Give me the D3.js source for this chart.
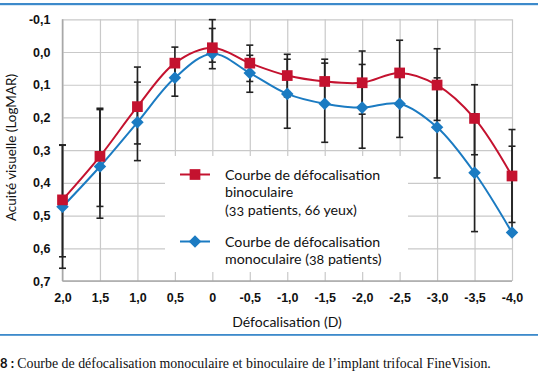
<!DOCTYPE html>
<html>
<head>
<meta charset="utf-8">
<script src="https://cdn.jsdelivr.net/npm/d3@7/dist/d3.min.js"></script>
<style>
  body { margin: 0; background: #fff; }
  svg { display: block; font-family: Lato, "Open Sans", sans-serif; }
  .num { font-variant-numeric: oldstyle-nums; }
</style>
</head>
<body>
<svg id="chart" width="538" height="384"></svg>
<script>
// DATA
var defocus = [2.0, 1.5, 1.0, 0.5, 0, -0.5, -1.0, -1.5, -2.0, -2.5, -3.0, -3.5, -4.0];
var xLabels = ['2,0', '1,5', '1,0', '0,5', '0', '-0,5', '-1,0', '-1,5', '-2,0', '-2,5', '-3,0', '-3,5', '-4,0'];
var yTicks = [-0.1, 0.0, 0.1, 0.2, 0.3, 0.4, 0.5, 0.6, 0.7];
var yLabels = ['-0,1', '0,0', '0,1', '0,2', '0,3', '0,4', '0,5', '0,6', '0,7'];

// binoculaire (33 patients, 66 yeux)
var bino = [0.452, 0.319, 0.167, 0.034, -0.013, 0.034, 0.072, 0.090, 0.094, 0.064, 0.101, 0.203, 0.379];
var binoLow = [0.284, 0.172, 0.046, -0.015, -0.072, -0.021, 0.007, 0.022, -0.003, -0.036, -0.010, 0.100, 0.237];
var binoHigh = [0.626, 0.472, 0.281, 0.083, 0.031, 0.090, 0.137, 0.158, 0.190, 0.164, 0.209, 0.314, 0.521];

// monoculaire (38 patients)
var mono = [0.473, 0.350, 0.215, 0.079, 0.005, 0.064, 0.128, 0.158, 0.170, 0.158, 0.230, 0.369, 0.552];
var monoLow = [0.285, 0.176, 0.092, 0.023, -0.099, 0.010, 0.022, 0.034, 0.038, 0.055, 0.079, 0.189, 0.288];
var monoHigh = [0.661, 0.508, 0.332, 0.135, 0.051, 0.123, 0.233, 0.276, 0.294, 0.261, 0.385, 0.549, 0.552];

var RED = '#c4122f';
var BLUE = '#1b7bc2';

// CHART
var chrt = {
    build_chart: function() {
        var svg = d3.select('svg#chart');
        var left = 62.5, right = 512, top = 19.3, bottom = 281;

        var x = d3.scaleLinear().domain([2, -4]).range([left, right]);
        var y = d3.scaleLinear().domain([-0.1, 0.7]).range([top, bottom]);

        // rules top and bottom
        svg.append('rect').attr('x', 0).attr('y', 3).attr('width', 538).attr('height', 2.2).attr('fill', '#3d8acb');
        svg.append('rect').attr('x', 0).attr('y', 334).attr('width', 538).attr('height', 1.8).attr('fill', '#3d8acb');

        // Gridlines (horizontal)
        var yAxis = svg.append('g')
            .attr('transform', 'translate(' + left + ',0)')
            .call(d3.axisLeft(y).tickValues(yTicks).tickSize(-(right - left)).tickPadding(12)
                .tickFormat(function(d, i) { return yLabels[i]; }));
        yAxis.select('.domain').remove();
        yAxis.selectAll('line').attr('stroke', '#c9c9c9').attr('stroke-width', 1.2);
        yAxis.selectAll('text').attr('class', 'num').attr('fill', '#111')
            .style('font-size', '12.5px').style('font-weight', 'bold');

        // Gridlines (vertical)
        var xAxis = svg.append('g')
            .attr('transform', 'translate(0,' + bottom + ')')
            .call(d3.axisBottom(x).tickValues(defocus).tickSize(-(bottom - top)).tickPadding(12)
                .tickFormat(function(d, i) { return xLabels[i]; }));
        xAxis.select('.domain').remove();
        xAxis.selectAll('line').attr('stroke', '#c9c9c9').attr('stroke-width', 1.2);
        xAxis.selectAll('text').attr('class', 'num').attr('fill', '#111')
            .style('font-size', '12.5px').style('font-weight', 'bold');

        // axis lines
        svg.append('line').attr('x1', left).attr('x2', left).attr('y1', top).attr('y2', bottom)
            .attr('stroke', '#a8a8a8').attr('stroke-width', 1.5);
        svg.append('line').attr('x1', left).attr('x2', right).attr('y1', bottom).attr('y2', bottom)
            .attr('stroke', '#a8a8a8').attr('stroke-width', 1.5);

        // Legend box hides grid
        svg.append('rect').attr('x', 165).attr('y', 156).attr('width', 243).attr('height', 116).attr('fill', '#fff');

        // Error bars
        var drawErr = function(lo, hi) {
            var g = svg.append('g').attr('stroke', '#222').attr('stroke-width', 1.6);
            defocus.forEach(function(d, i) {
                var cx = x(d);
                g.append('line').attr('x1', cx).attr('x2', cx).attr('y1', y(lo[i])).attr('y2', y(hi[i]));
                g.append('line').attr('x1', cx - 3.5).attr('x2', cx + 3.5).attr('y1', y(lo[i])).attr('y2', y(lo[i]));
                g.append('line').attr('x1', cx - 3.5).attr('x2', cx + 3.5).attr('y1', y(hi[i])).attr('y2', y(hi[i]));
            });
        };
        drawErr(binoLow, binoHigh);
        drawErr(monoLow, monoHigh);

        var line = function(vals) {
            return d3.line()
                .curve(d3.curveCatmullRom.alpha(0.5))
                .x(function(d, i) { return x(defocus[i]); })
                .y(function(d) { return y(d); })(vals);
        };

        svg.append('path').attr('d', line(mono)).attr('fill', 'none').attr('stroke', BLUE).attr('stroke-width', 2);
        svg.append('path').attr('d', line(bino)).attr('fill', 'none').attr('stroke', RED).attr('stroke-width', 2);

        var sq = d3.symbol().type(d3.symbolSquare).size(115);
        var dm = d3.symbol().type(d3.symbolDiamond2).size(100);

        svg.append('g').selectAll('path').data(mono).join('path')
            .attr('d', dm)
            .attr('transform', function(d, i) { return 'translate(' + x(defocus[i]) + ',' + y(d) + ')'; })
            .attr('fill', BLUE);
        svg.append('g').selectAll('path').data(bino).join('path')
            .attr('d', sq)
            .attr('transform', function(d, i) { return 'translate(' + x(defocus[i]) + ',' + y(d) + ')'; })
            .attr('fill', RED);

        // Legend
        var lg = svg.append('g');
        lg.append('line').attr('x1', 180).attr('x2', 210).attr('y1', 174.5).attr('y2', 174.5).attr('stroke', RED).attr('stroke-width', 2);
        lg.append('path').attr('d', sq).attr('transform', 'translate(195,174.5)').attr('fill', RED);
        lg.append('line').attr('x1', 180).attr('x2', 210).attr('y1', 241.5).attr('y2', 241.5).attr('stroke', BLUE).attr('stroke-width', 2);
        lg.append('path').attr('d', dm).attr('transform', 'translate(195,241.5)').attr('fill', BLUE);

        var lines1 = ['Courbe de défocalisation', 'binoculaire', '(33 patients, 66 yeux)'];
        var lines2 = ['Courbe de défocalisation', 'monoculaire (38 patients)'];
        lines1.forEach(function(t, i) {
            lg.append('text').attr('class', 'num').attr('x', 225).attr('y', 179.5 + i * 17.5)
                .style('font-size', '14.2px').attr('fill', '#111').text(t);
        });
        lines2.forEach(function(t, i) {
            lg.append('text').attr('class', 'num').attr('x', 225).attr('y', 246.5 + i * 17)
                .style('font-size', '14.2px').attr('fill', '#111').text(t);
        });

        // Axis titles
        svg.append('text').attr('transform', 'translate(16,147.5) rotate(-90)')
            .attr('text-anchor', 'middle').style('font-size', '13.5px').attr('fill', '#111')
            .text('Acuité visuelle (LogMAR)');
        svg.append('text').attr('x', 287).attr('y', 327)
            .attr('text-anchor', 'middle').style('font-size', '14px').attr('fill', '#111')
            .text('Défocalisation (D)');

        // Caption
        var cap = svg.append('text').attr('x', 0).attr('y', 367.5).attr('fill', '#111');
        cap.append('tspan').style('font-weight', 'bold').style('font-size', '13px').text('8 : ');
        cap.append('tspan').style('font-family', '"Liberation Serif", "DejaVu Serif", serif').style('font-size', '13.9px')
            .text('Courbe de défocalisation monoculaire et binoculaire de l’implant trifocal FineVision.');
    }
};

chrt.build_chart();
</script>
</body>
</html>
